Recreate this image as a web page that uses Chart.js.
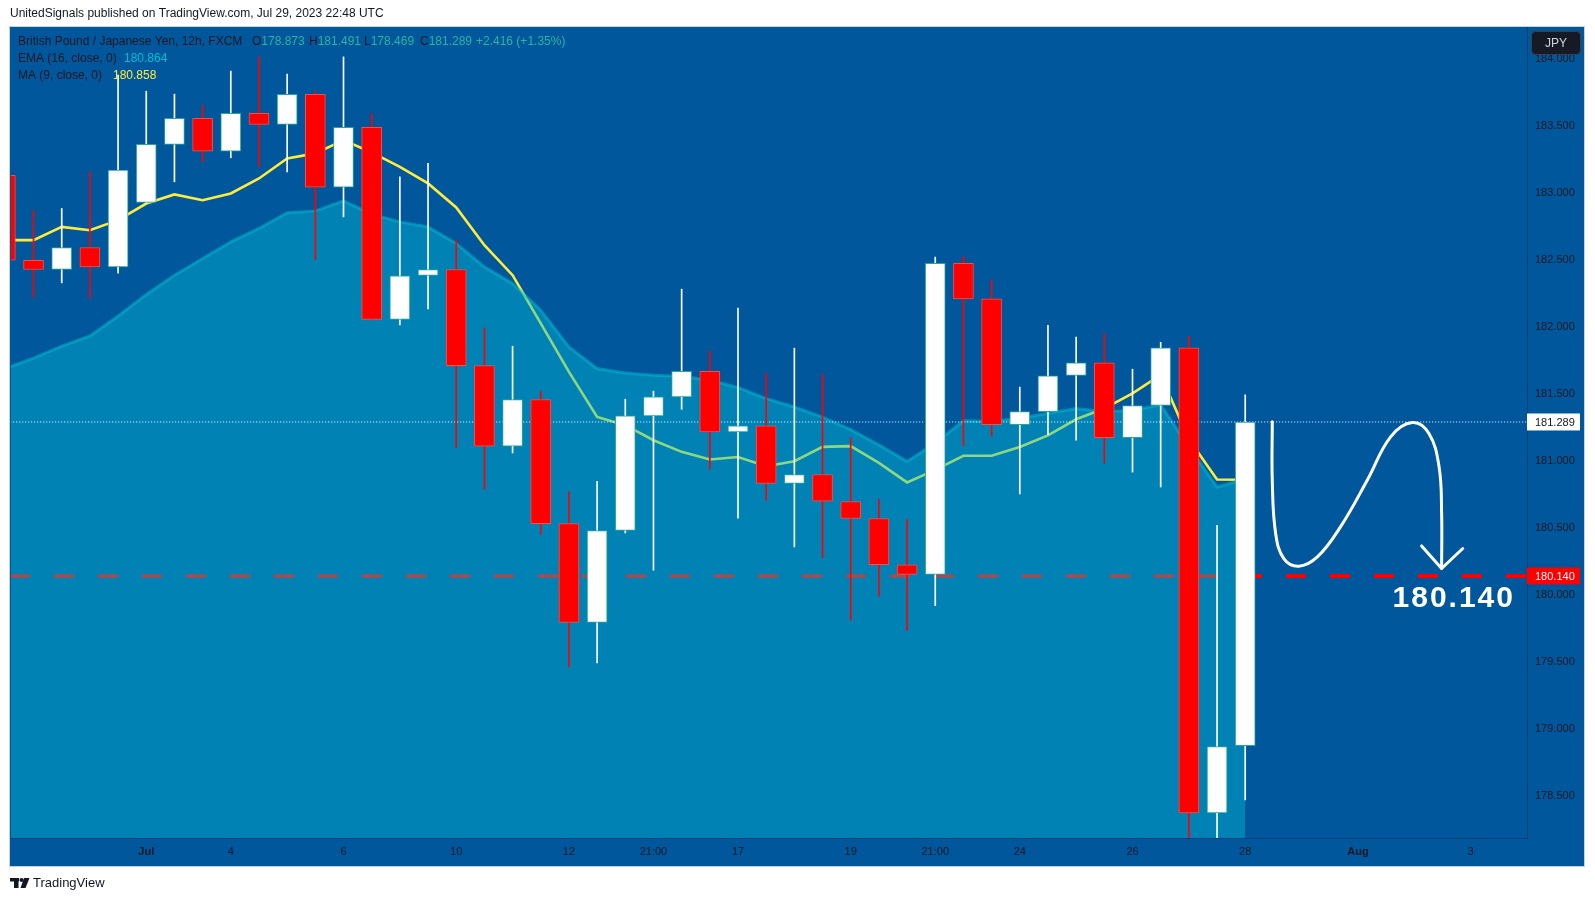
<!DOCTYPE html>
<html><head><meta charset="utf-8">
<script src="https://cdn.jsdelivr.net/npm/chart.js@4.4.0/dist/chart.umd.min.js"></script>
<style>html,body{margin:0;padding:0;background:#fff;}canvas{display:block;}</style>
</head><body>
<canvas id="c" width="1595" height="901"></canvas>
<script>
// ---- data (12h candles, GBP/JPY) ----
const candleIndex = [0,1,2,3,4,5,6,7,8,9,10,11,12,13,14,15,16,17,18,19,20,21,22,23,24,25,26,27,28,29,30,31,32,33,34,35,36,37,38,39,40,41,42,43,44];
const opens  = [183.130,182.496,182.427,182.591,182.446,182.927,183.360,183.554,183.310,183.591,183.509,183.733,183.041,183.487,182.054,182.382,182.427,181.710,181.108,181.457,180.531,179.793,180.479,181.334,181.476,181.666,181.215,181.260,180.830,180.897,180.695,180.569,180.224,180.152,182.472,182.208,181.269,181.366,181.637,181.731,181.172,181.412,181.843,178.373,178.873];
const highs  = [183.150,182.869,182.882,183.155,183.877,183.757,183.735,183.653,183.907,184.013,183.884,183.757,184.013,183.590,183.118,183.218,182.646,181.991,181.854,181.519,180.767,180.847,181.459,181.519,182.280,181.817,182.138,181.653,181.840,181.646,181.169,180.712,180.560,182.520,182.525,182.346,181.549,182.011,181.923,181.946,181.683,181.883,181.928,180.518,181.491];
const lows   = [182.480,182.220,182.327,182.210,182.400,182.920,183.081,183.230,183.260,183.193,183.155,182.501,182.819,182.050,182.013,182.133,181.096,180.787,181.058,180.451,179.461,179.491,180.461,180.183,181.384,180.937,180.571,180.705,180.357,180.278,179.810,179.990,179.732,179.918,181.112,181.183,180.752,181.195,181.154,180.981,180.915,180.804,178.050,178.050,178.469];
const closes = [182.496,182.427,182.591,182.446,183.168,183.360,183.554,183.310,183.591,183.509,183.733,183.041,183.487,182.054,182.379,182.427,181.710,181.108,181.457,180.531,179.793,180.479,181.334,181.476,181.666,181.215,181.260,180.830,180.897,180.698,180.569,180.224,180.152,182.472,182.208,181.269,181.366,181.634,181.731,181.172,181.412,181.843,178.373,178.867,181.289];
const ema16  = [181.689,181.765,181.855,181.931,182.080,182.241,182.384,182.509,182.633,182.733,182.851,182.864,182.939,182.840,182.782,182.745,182.621,182.446,182.322,182.123,181.849,181.688,181.655,181.638,181.631,181.601,181.546,181.464,181.401,181.325,181.232,181.118,180.995,181.132,181.298,181.295,181.317,181.354,181.389,181.366,181.375,181.417,181.103,180.804,180.864];
const ma9    = [182.646,182.646,182.745,182.720,182.795,182.919,182.987,182.944,182.994,183.106,183.255,183.293,183.392,183.300,183.193,183.069,182.890,182.608,182.384,182.024,181.663,181.327,181.265,181.153,181.066,181.009,181.028,180.959,180.996,181.103,181.109,180.984,180.838,180.932,181.037,181.037,181.103,181.189,181.309,181.389,181.503,181.640,181.160,180.860,180.858];
const xTickIndex  = [5,8,12,16,20,23,26,30,33,36,40,44,48,52];
const xTickLabels = ['Jul','4','6','10','12','21:00','17','19','21:00','24','26','28','Aug','3'];
const xBoldLabels = ['Jul','Aug'];
const yTickValues = [178.5,179.0,179.5,180.0,180.5,181.0,181.5,182.0,182.5,183.0,183.5,184.0];
const targetLevel = 180.140;
// hand-drawn projection (index, price)
const sketchX = [44.96,44.96,45.08,45.37,45.90,46.56,47.38,48.33,49.16,49.93,50.52,50.88,50.97,50.97];
const sketchY = [181.290,180.854,180.457,180.270,180.213,180.282,180.506,180.854,181.178,181.285,181.203,180.954,180.606,180.196];
const arrowX = [50.26,50.97,51.72];
const arrowY = [180.364,180.196,180.345];

const X_MIN = 0.2, X_MAX = 54.0, Y_MIN = 178.185, Y_MAX = 184.236;
const BG = '#01579B';
const TXT = '#131722';
const FONT = "'Liberation Sans', Arial, sans-serif";

const up = candleIndex.map(i => closes[i] >= opens[i]);
const lastClose = closes[closes.length - 1];

const bgPlugin = {
  id: 'bg',
  beforeDraw(chart) {
    const c = chart.ctx;
    c.save();
    c.fillStyle = '#ffffff';
    c.fillRect(0, 0, chart.width, chart.height);
    c.fillStyle = BG;
    c.fillRect(10, 27, 1574, 839);
    c.restore();
  }
};

function txt(c, s, x, y, color, font, align) {
  c.font = font; c.fillStyle = color; c.textAlign = align || 'left'; c.textBaseline = 'middle';
  c.fillText(s, x, y);
  return x + c.measureText(s).width;
}

const overlayPlugin = {
  id: 'overlay',
  afterDraw(chart) {
    const c = chart.ctx;
    const ys = chart.scales.y, xs = chart.scales.x;
    c.save();
    // frame border
    c.strokeStyle = '#c8d2dc'; c.lineWidth = 1;
    c.strokeRect(9.5, 26.5, 1575, 840);
    // title
    txt(c, 'UnitedSignals published on TradingView.com, Jul 29, 2023 22:48 UTC', 10, 14, TXT, '12px ' + FONT);
    // legend
    const f = '12px ' + FONT;
    const teal = '#2bb39f';
    txt(c, 'British Pound / Japanese Yen, 12h, FXCM', 18, 42, TXT, f);
    let x = txt(c, 'O', 252, 42, TXT, f); txt(c, opens[44].toFixed(3), x, 42, teal, f);
    x = txt(c, 'H', 309, 42, TXT, f); txt(c, highs[44].toFixed(3), x, 42, teal, f);
    x = txt(c, 'L', 364, 42, TXT, f); txt(c, lows[44].toFixed(3), x, 42, teal, f);
    x = txt(c, 'C', 420, 42, TXT, f); txt(c, closes[44].toFixed(3), x, 42, teal, f);
    txt(c, '+2.416 (+1.35%)', 476, 42, teal, f);
    txt(c, 'EMA (16, close, 0)', 18, 58.5, TXT, f);
    txt(c, ema16[44].toFixed(3), 124, 58.5, '#00BCD4', f);
    txt(c, 'MA (9, close, 0)', 18, 75.5, TXT, f);
    txt(c, ma9[44].toFixed(3), 113, 75.5, '#FFEB3B', f);
    // axis price tags
    const ra = chart.chartArea.right;
    let py = ys.getPixelForValue(lastClose);
    c.fillStyle = '#ffffff'; c.fillRect(ra, py - 8.5, 53, 17);
    txt(c, lastClose.toFixed(3), ra + 8, py + 0.5, TXT, '11px ' + FONT);
    py = ys.getPixelForValue(targetLevel);
    c.fillStyle = '#ff0000'; c.fillRect(ra, py - 8.5, 53, 17);
    txt(c, targetLevel.toFixed(3), ra + 8, py + 0.5, '#ffffff', '11px ' + FONT);
    // currency badge
    c.beginPath();
    if (c.roundRect) c.roundRect(1531.5, 31.5, 49, 23, 4); else c.rect(1531.5, 31.5, 49, 23);
    c.fillStyle = '#161a25'; c.fill();
    c.strokeStyle = '#3a3f4d'; c.lineWidth = 1; c.stroke();
    txt(c, 'JPY', 1556, 43.5, '#d1d4dc', '12px ' + FONT, 'center');
    // big target text
    c.font = 'bold 30px ' + FONT;
    try { c.letterSpacing = '2px'; } catch (e) {}
    c.fillStyle = '#ffffff'; c.textAlign = 'center'; c.textBaseline = 'alphabetic';
    c.fillText(targetLevel.toFixed(3), xs.getPixelForValue(51.4), ys.getPixelForValue(179.909));
    try { c.letterSpacing = '0px'; } catch (e) {}
    // footer logo
    c.fillStyle = TXT;
    c.fillRect(10, 878, 9, 3.5);
    c.fillRect(14, 878, 4.5, 10);
    c.beginPath(); c.arc(21.5, 880, 2, 0, Math.PI * 2); c.fill();
    c.beginPath(); c.moveTo(24, 878); c.lineTo(29.5, 878); c.lineTo(25.5, 888); c.lineTo(20.5, 888); c.closePath(); c.fill();
    txt(c, 'TradingView', 33, 883.5, TXT, '13px ' + FONT);
    c.restore();
  }
};

const pts = (xs, ys) => xs.map((v, i) => ({x: v, y: ys[i]}));

new Chart(document.getElementById('c').getContext('2d'), {
  type: 'line',
  data: {
    datasets: [
      { type: 'line', data: pts(sketchX, sketchY), borderColor: '#ffffff', borderWidth: 3, tension: 0.4,
        pointRadius: 0, borderCapStyle: 'round', borderJoinStyle: 'round', order: 0, clip: false },
      { type: 'line', data: pts(arrowX, arrowY), borderColor: '#ffffff', borderWidth: 3, tension: 0,
        pointRadius: 0, borderCapStyle: 'round', borderJoinStyle: 'round', order: 0 },
      { type: 'bar', data: candleIndex.map(i => ({x: i, y: [opens[i], closes[i]]})),
        backgroundColor: up.map(u => u ? '#ffffff' : '#ff0000'),
        borderColor: up.map(u => u ? '#26a69a' : '#f0504a'),
        borderWidth: 1, borderSkipped: false, barThickness: 20, grouped: false, order: 1 },
      { type: 'bar', data: candleIndex.map(i => ({x: i, y: [lows[i], highs[i]]})),
        backgroundColor: up.map(u => u ? '#ffffff' : '#ff0000'),
        borderWidth: 0, barThickness: 1, grouped: false, order: 2 },
      { type: 'line', data: [{x: -1, y: lastClose}, {x: 60, y: lastClose}], borderColor: '#ffffff',
        borderWidth: 1, borderDash: [1, 2], pointRadius: 0, order: 3 },
      { type: 'line', data: candleIndex.map(i => ({x: i, y: ema16[i]})), borderColor: 'rgba(0,188,212,0.5)',
        borderWidth: 3, backgroundColor: 'rgba(0,188,212,0.44)', fill: 'start', pointRadius: 0, tension: 0, order: 4 },
      { type: 'line', data: [{x: 0.166, y: targetLevel}, {x: 60, y: targetLevel}], borderColor: '#ff0000',
        borderWidth: 4, borderDash: [20, 24], pointRadius: 0, order: 5 },
      { type: 'line', data: candleIndex.map(i => ({x: i, y: ma9[i]})), borderColor: '#FFEB3B',
        borderWidth: 2.6, pointRadius: 0, tension: 0, order: 6 }
    ]
  },
  options: {
    responsive: false, animation: false, devicePixelRatio: 1,
    layout: { padding: { left: 11, top: 27, right: 11, bottom: 36 } },
    plugins: { legend: { display: false }, tooltip: { enabled: false } },
    elements: { point: { radius: 0 } },
    scales: {
      x: {
        type: 'linear', min: X_MIN, max: X_MAX, offset: false,
        afterFit(s) { s.height = 27; },
        afterBuildTicks(s) { s.ticks = xTickIndex.map(v => ({value: v})); },
        ticks: {
          autoSkip: false, maxRotation: 0, padding: 7, color: TXT,
          callback(v) { const k = xTickIndex.indexOf(v); return k >= 0 ? xTickLabels[k] : ''; },
          font(ctx) {
            const k = ctx.tick ? xTickIndex.indexOf(ctx.tick.value) : -1;
            const bold = k >= 0 && xBoldLabels.includes(xTickLabels[k]);
            return { family: FONT, size: 11, weight: bold ? 'bold' : 'normal' };
          }
        },
        grid: { display: true, drawOnChartArea: false, drawTicks: false, color: 'rgba(0,0,0,0)' },
        border: { display: true, color: 'rgba(0,25,60,0.35)', width: 1 }
      },
      y: {
        type: 'linear', position: 'right', min: Y_MIN, max: Y_MAX,
        afterFit(s) { s.width = 57; },
        afterBuildTicks(s) { s.ticks = yTickValues.map(v => ({value: v})); },
        ticks: { padding: 8, color: TXT, font: { family: FONT, size: 11 }, callback: v => Number(v).toFixed(3) },
        grid: { display: true, drawOnChartArea: false, drawTicks: false, color: 'rgba(0,0,0,0)' },
        border: { display: true, color: 'rgba(0,25,60,0.35)', width: 1 }
      }
    }
  },
  plugins: [bgPlugin, overlayPlugin]
});
</script>
</body></html>
